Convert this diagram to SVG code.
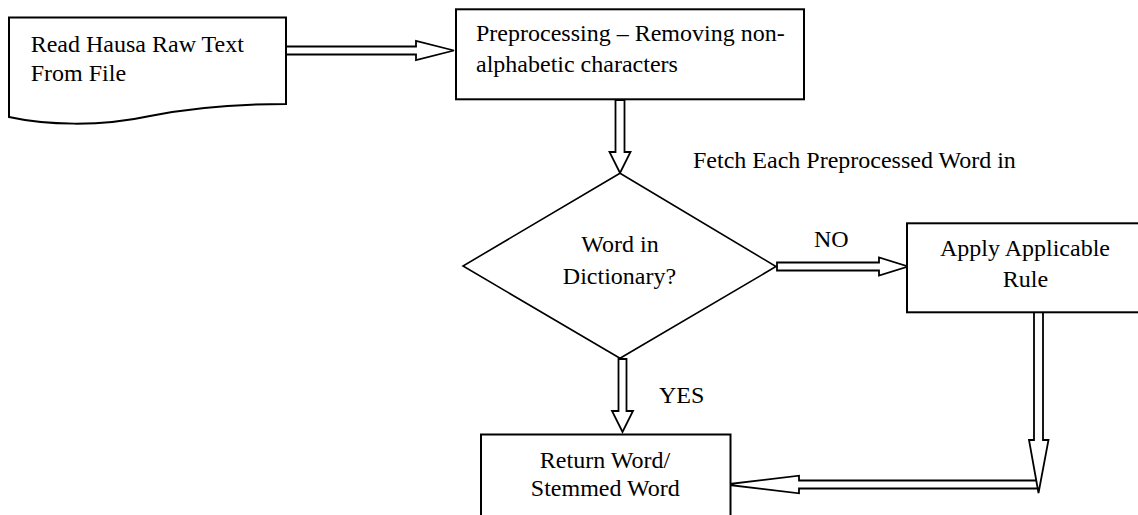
<svg xmlns="http://www.w3.org/2000/svg" width="1138" height="515" viewBox="0 0 1138 515">
<style>
.shape{fill:#ffffff;stroke:#000000;stroke-width:2}
.dia{fill:#ffffff;stroke:#000000;stroke-width:1.6}
.arrow{fill:#ffffff;stroke:#000000;stroke-width:1.8;stroke-linejoin:miter}
text{font-family:"Liberation Serif","Times New Roman",serif;font-size:24px;fill:#000000}
.c{text-anchor:middle}
</style>
<rect width="1138" height="515" fill="#ffffff"/>
<g id="connectors">
<polygon class="arrow" points="286,46.5 416,46.5 416,41 454,50.5 416,60 416,54.5 286,54.5"/>
<polygon class="arrow" points="615.5,100 624.5,100 624.5,152 630.5,152 620,173 609.5,152 615.5,152"/>
<polygon class="arrow" points="777,262.5 879,262.5 879,257.5 908,266.5 879,275.5 879,270.5 777,270.5"/>
<polygon class="arrow" points="618.5,359 626.5,359 626.5,411 633,411 622.5,432 612,411 618.5,411"/>
<polygon class="arrow" points="1039,480.5 799,480.5 799,475.7 725,484.5 799,493.3 799,488.5 1039,488.5"/>
<polygon class="arrow" points="1034,312 1043,312 1043,440 1048.5,440 1038.5,493 1029,440 1034,440"/>
<text x="814" y="246.7">NO</text>
<text x="659" y="402.7">YES</text>
</g>
<g id="node-read">
<path class="shape" d="M9,17.5 L286,17.5 L286,104 C250,104 200,106 150,116 C100,127 45,125 9,117 Z"/>
<text x="30.7" y="52.3">Read Hausa Raw Text</text>
<text x="30.7" y="80.7">From File</text>
</g>
<g id="node-preprocess">
<rect class="shape" x="456" y="9.3" width="348" height="90"/>
<text x="476" y="40.5">Preprocessing – Removing non-</text>
<text x="476" y="72">alphabetic characters</text>
</g>
<g id="label-fetch">
<text x="693" y="168.3">Fetch Each Preprocessed Word in</text>
</g>
<g id="node-decision">
<polygon class="dia" points="620,173.3 776,266.5 620,358.3 463,266"/>
<text class="c" x="620" y="251.7">Word in</text>
<text class="c" x="619.5" y="284">Dictionary?</text>
</g>
<g id="node-apply">
<rect class="shape" x="907" y="223.3" width="240" height="89"/>
<text class="c" x="1025" y="256">Apply Applicable</text>
<text class="c" x="1025.5" y="287.3">Rule</text>
</g>
<g id="node-return">
<rect class="shape" x="481" y="434.5" width="249.5" height="90"/>
<text class="c" x="605" y="468.3">Return Word/</text>
<text class="c" x="605.3" y="496">Stemmed Word</text>
</g>
</svg>
